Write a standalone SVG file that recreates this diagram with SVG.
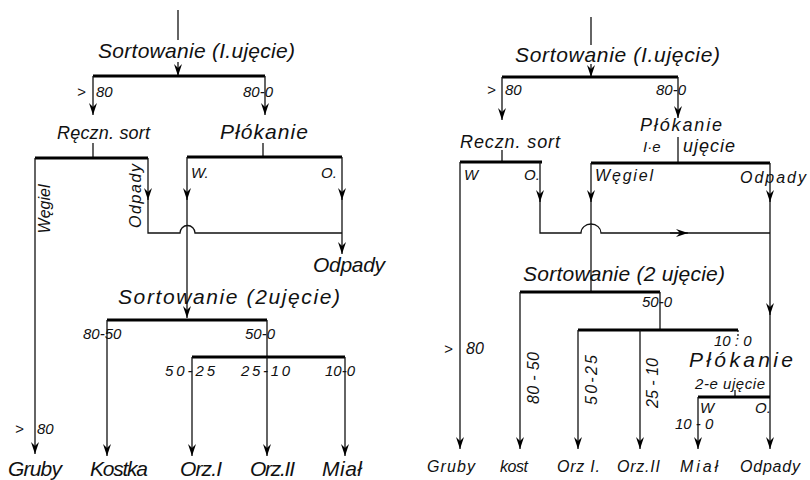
<svg xmlns="http://www.w3.org/2000/svg" width="810" height="480" viewBox="0 0 810 480">
<style>
.l{stroke:#111;stroke-width:1.3;fill:none}
.b{stroke:#000;stroke-width:3.2;fill:none}
.a{marker-end:url(#ah)}
text{font-family:"Liberation Sans",Arial,sans-serif;font-style:italic;fill:#111}
.t1{font-size:21px}
.t2{font-size:18px}
.t3{font-size:15px}
.t4{font-size:16px}
</style>
<defs>
<marker id="ah" viewBox="-13 -5 14 10" markerWidth="14" markerHeight="10" refX="0" refY="0" orient="auto" markerUnits="userSpaceOnUse">
<path d="M0,0 L-12,-4 L-8,0 L-12,4 Z" fill="#000"/>
</marker>
</defs>
<rect width="810" height="480" fill="#fff"/>

<!-- LEFT DIAGRAM -->
<g id="connectors-left">
<line class="l" x1="178" y1="10" x2="178" y2="40"/>
<line class="l a" x1="178" y1="62" x2="178" y2="76"/>
<line class="b" x1="93" y1="76" x2="265" y2="76"/>
<line class="l a" x1="93" y1="76" x2="93" y2="115"/>
<line class="l a" x1="265" y1="76" x2="265" y2="115"/>
<line class="l" x1="93" y1="143" x2="93" y2="158"/>
<line class="b" x1="35" y1="158" x2="148" y2="158"/>
<line class="l" x1="263" y1="143" x2="263" y2="157"/>
<line class="b" x1="187" y1="157" x2="342" y2="157"/>
<line class="l a" x1="35" y1="158" x2="35" y2="454"/>
<line class="l a" x1="148" y1="158" x2="148" y2="200"/>
<path class="l" d="M148,198 V233 H180 A7.5,7.5 0 0 1 195,233 H342"/>
<line class="l a" x1="187" y1="157" x2="187" y2="200"/>
<line class="l a" x1="187" y1="198" x2="187" y2="318"/>
<line class="l a" x1="342" y1="157" x2="342" y2="200"/>
<line class="l a" x1="342" y1="198" x2="342" y2="254"/>
<line class="b" x1="107" y1="320" x2="267" y2="320"/>
<line class="l a" x1="107" y1="320" x2="107" y2="456"/>
<line class="l" x1="267" y1="320" x2="267" y2="357"/>
<line class="b" x1="192" y1="357" x2="345" y2="357"/>
<line class="l a" x1="192" y1="357" x2="192" y2="456"/>
<line class="l a" x1="267" y1="357" x2="267" y2="456"/>
<line class="l a" x1="345" y1="357" x2="345" y2="456"/>
</g>
<g id="node-l-sort1"><text class="t1" x="98" y="58" textLength="197" lengthAdjust="spacing">Sortowanie (I.ujęcie)</text></g>
<g id="label-l-gt80"><text class="t3" x="77" y="97">&gt;</text><text class="t3" x="96" y="97">80</text></g>
<g id="label-l-80-0"><text class="t3" x="243" y="97">80-0</text></g>
<g id="node-l-reczn"><text class="t2" x="57" y="139" textLength="93" lengthAdjust="spacing">Ręczn. sort</text></g>
<g id="node-l-plok"><text class="t1" x="220" y="139" textLength="88" lengthAdjust="spacing">Płókanie</text></g>
<g id="label-l-wegiel"><text class="t4" transform="translate(50,209) rotate(-90)" text-anchor="middle">Węgiel</text></g>
<g id="label-l-odpady-r"><text class="t4" transform="translate(141,196) rotate(-90)" text-anchor="middle" textLength="64" lengthAdjust="spacing">Odpady</text></g>
<g id="label-l-w"><text class="t3" x="191" y="178">W.</text></g>
<g id="label-l-o"><text class="t3" x="321" y="178">O.</text></g>
<g id="node-l-odpady"><text class="t1" x="313" y="272" textLength="72" lengthAdjust="spacing">Odpady</text></g>
<g id="node-l-sort2"><text class="t1" x="118" y="304" textLength="222" lengthAdjust="spacing">Sortowanie (2ujęcie)</text></g>
<g id="label-l-80-50"><text class="t3" x="83" y="339">80-50</text></g>
<g id="label-l-50-0"><text class="t3" x="245" y="339">50-0</text></g>
<g id="label-l-50-25"><text class="t3" x="165" y="376" textLength="50" lengthAdjust="spacing">50-25</text></g>
<g id="label-l-25-10"><text class="t3" x="241" y="376" textLength="49" lengthAdjust="spacing">25-10</text></g>
<g id="label-l-10-0"><text class="t3" x="325" y="376">10-0</text></g>
<g id="label-l-gt80b"><text class="t3" x="15" y="434">&gt;</text><text class="t3" x="37" y="434">80</text></g>
<g id="node-l-gruby"><text class="t1" x="8" y="476" textLength="54" lengthAdjust="spacing">Gruby</text></g>
<g id="node-l-kostka"><text class="t1" x="90" y="476" textLength="58" lengthAdjust="spacing">Kostka</text></g>
<g id="node-l-orz1"><text class="t1" x="180" y="476" textLength="42" lengthAdjust="spacing">Orz.I</text></g>
<g id="node-l-orz2"><text class="t1" x="250" y="476" textLength="45" lengthAdjust="spacing">Orz.II</text></g>
<g id="node-l-mial"><text class="t1" x="322" y="476" textLength="40" lengthAdjust="spacing">Miał</text></g>

<!-- RIGHT DIAGRAM -->
<g id="connectors-right">
<line class="l" x1="591" y1="17" x2="591" y2="45"/>
<line class="l a" x1="591" y1="64" x2="591" y2="77"/>
<line class="b" x1="502" y1="77" x2="678" y2="77"/>
<line class="l a" x1="502" y1="77" x2="502" y2="120"/>
<line class="l a" x1="678" y1="77" x2="678" y2="118"/>
<line class="l" x1="678" y1="137" x2="678" y2="163"/>
<line class="l" x1="502" y1="150" x2="502" y2="162"/>
<line class="b" x1="460" y1="162" x2="542" y2="162"/>
<line class="b" x1="591" y1="163" x2="770" y2="163"/>
<line class="l a" x1="460" y1="162" x2="460" y2="449"/>
<line class="l a" x1="540" y1="162" x2="540" y2="202"/>
<path class="l" d="M540,200 V233 H581 A10,9 0 0 1 601,233 H770"/>
<line class="l a" x1="670" y1="233" x2="688" y2="233"/>
<line class="l a" x1="591" y1="163" x2="591" y2="202"/>
<line class="l" x1="591" y1="200" x2="591" y2="292"/>
<line class="l a" x1="770" y1="163" x2="770" y2="202"/>
<line class="l a" x1="770" y1="200" x2="770" y2="315"/>
<line class="l a" x1="770" y1="313" x2="770" y2="449"/>
<line class="b" x1="520" y1="292" x2="660" y2="292"/>
<line class="l a" x1="520" y1="292" x2="520" y2="449"/>
<line class="l" x1="660" y1="292" x2="660" y2="330"/>
<line class="b" x1="578" y1="330" x2="738" y2="330"/>
<line class="l a" x1="578" y1="330" x2="578" y2="449"/>
<line class="l a" x1="640" y1="330" x2="640" y2="449"/>
<line class="l" x1="738" y1="330" x2="738" y2="337" stroke-dasharray="2 2"/>
<line class="l" x1="735" y1="390" x2="735" y2="397"/>
<line class="b" x1="698" y1="397" x2="770" y2="397"/>
<line class="l a" x1="698" y1="397" x2="698" y2="449"/>
</g>
<g id="node-r-sort1"><text class="t1" x="515" y="62" textLength="205" lengthAdjust="spacing">Sortowanie (I.ujęcie)</text></g>
<g id="label-r-gt80"><text class="t3" x="487" y="95">&gt;</text><text class="t3" x="505" y="95">80</text></g>
<g id="label-r-80-0"><text class="t3" x="656" y="95">80-0</text></g>
<g id="node-r-reczn"><text class="t2" x="460" y="148" textLength="100" lengthAdjust="spacing">Reczn. sort</text></g>
<g id="node-r-plok1"><text class="t2" x="640" y="131" textLength="82" lengthAdjust="spacing">Płókanie</text><text class="t3" x="643" y="152">I·e</text><text class="t2" x="683" y="152" textLength="52" lengthAdjust="spacing">ujęcie</text></g>
<g id="label-r-w"><text class="t3" x="464" y="180">W</text></g>
<g id="label-r-o"><text class="t3" x="524" y="180">O.</text></g>
<g id="label-r-wegiel"><text class="t4" x="595" y="181" textLength="58" lengthAdjust="spacing">Węgiel</text></g>
<g id="label-r-odpady"><text class="t4" x="740" y="183" textLength="66" lengthAdjust="spacing">Odpady</text></g>
<g id="node-r-sort2"><text class="t1" x="523" y="281" textLength="202" lengthAdjust="spacing">Sortowanie (2 ujęcie)</text></g>
<g id="label-r-50-0"><text class="t3" x="642" y="307">50-0</text></g>
<g id="label-r-gt80b"><text class="t3" x="444" y="354">&gt;</text><text class="t4" x="466" y="354">80</text></g>
<g id="label-r-80-50"><text class="t4" transform="translate(539,378) rotate(-90)" text-anchor="middle" textLength="52" lengthAdjust="spacing">80 - 50</text></g>
<g id="label-r-50-25"><text class="t4" transform="translate(597,380) rotate(-90)" text-anchor="middle" textLength="50" lengthAdjust="spacing">50-25</text></g>
<g id="label-r-25-10"><text class="t4" transform="translate(658,383) rotate(-90)" text-anchor="middle" textLength="50" lengthAdjust="spacing">25 - 10</text></g>
<g id="label-r-10-0a"><text class="t3" x="714" y="346">10 : 0</text></g>
<g id="node-r-plok2"><text class="t1" x="689" y="367" textLength="104" lengthAdjust="spacing">Płókanie</text><text class="t3" x="695" y="389" textLength="70" lengthAdjust="spacing">2-e ujęcie</text></g>
<g id="label-r-w2"><text class="t3" x="700" y="413">W</text></g>
<g id="label-r-o2"><text class="t3" x="755" y="413">O.</text></g>
<g id="label-r-10-0b"><text class="t3" x="675" y="429">10 - 0</text></g>
<g id="node-r-gruby"><text class="t4" x="427" y="472" textLength="48" lengthAdjust="spacing">Gruby</text></g>
<g id="node-r-kost"><text class="t4" x="500" y="472" textLength="28" lengthAdjust="spacing">kost</text></g>
<g id="node-r-orz1"><text class="t4" x="557" y="472" textLength="43" lengthAdjust="spacing">Orz I.</text></g>
<g id="node-r-orz2"><text class="t4" x="617" y="472" textLength="43" lengthAdjust="spacing">Orz.II</text></g>
<g id="node-r-mial"><text class="t4" x="680" y="472" textLength="38" lengthAdjust="spacing">Miał</text></g>
<g id="node-r-odpady"><text class="t4" x="740" y="472" textLength="60" lengthAdjust="spacing" fill="#666">Odpady</text></g>
</svg>
